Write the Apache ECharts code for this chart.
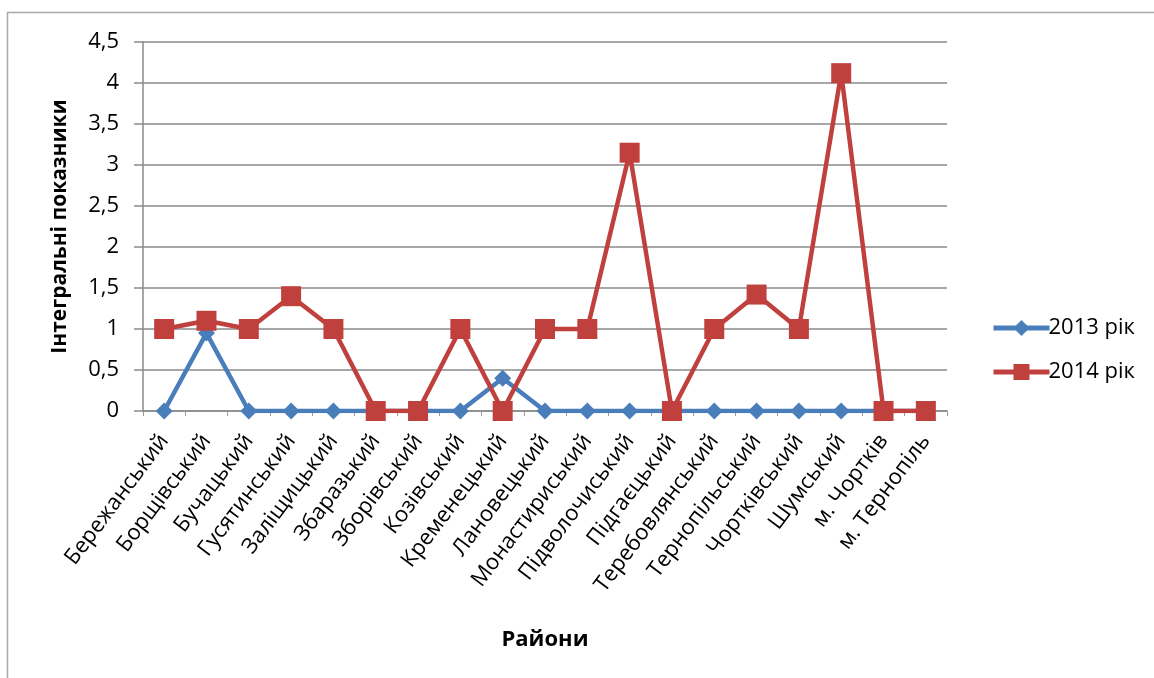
<!DOCTYPE html>
<html>
<head>
<meta charset="utf-8">
<script src="https://cdn.jsdelivr.net/npm/echarts@6/dist/echarts.min.js"></script>
<style>
  html, body { margin: 0; padding: 0; background: #fff; }
  #chart { width: 1154px; height: 678px; }
</style>
</head>
<body>
<div id="chart"></div>
<script>
// Districts of Ternopil oblast
const districts = [
  "Бережанський", "Борщівський", "Бучацький", "Гусятинський", "Заліщицький",
  "Збаразький", "Зборівський", "Козівський", "Кременецький", "Лановецький",
  "Монастириський", "Підволочиський", "Підгаєцький", "Теребовлянський",
  "Тернопільський", "Чортківський", "Шумський", "м. Чортків", "м. Тернопіль"
];

// Integral indicators by year
const values2013 = [0, 0.95, 0, 0, 0, 0, 0, 0, 0.4, 0, 0, 0, 0, 0, 0, 0, 0, 0, 0];
const values2014 = [1, 1.1, 1, 1.4, 1, 0, 0, 1, 0, 1, 1, 3.15, 0, 1, 1.42, 1, 4.12, 0, 0];

const seriesNames = ["2013 рік", "2014 рік"];
const axisNameX = "Райони";
const axisNameY = "Інтегральні показники";

const FONT = "'Open Sans', 'Noto Sans', sans-serif";
const GRID_COLOR = "#8a8a8a";
const BLUE = "#4a7ebb";
const RED = "#c0403d";

const chart = echarts.init(document.getElementById("chart"), null, { renderer: "canvas" });

chart.setOption({
  backgroundColor: "#ffffff",
  animation: false,
  graphic: [{
    type: "rect",
    shape: { x: 7.5, y: 12.5, width: 1170, height: 700 },
    style: { fill: "none", stroke: "#a8a8a8", lineWidth: 1.5 },
    silent: true
  }],
  grid: { left: 143, right: 207, top: 42, bottom: 267, containLabel: false },
  legend: {
    orient: "vertical",
    left: 986,
    top: 312,
    itemWidth: 56,
    itemHeight: 20,
    itemGap: 22,
    lineStyle: { width: 5 },
    textStyle: { fontFamily: FONT, fontSize: 22, color: "#000", padding: [0, 0, 0, -6] },
    data: seriesNames
  },
  xAxis: {
    type: "category",
    data: districts,
    boundaryGap: true,
    name: axisNameX,
    nameLocation: "middle",
    nameGap: 218,
    nameTextStyle: { fontFamily: FONT, fontSize: 22, fontWeight: "bold", color: "#000" },
    axisLine: { show: true, lineStyle: { color: GRID_COLOR, width: 1.5 } },
    axisTick: { show: true, length: 5, lineStyle: { color: "#9a9a9a", width: 1 } },
    axisLabel: {
      interval: 0,
      rotate: 53,
      margin: 26,
      fontFamily: FONT,
      fontSize: 22,
      color: "#000"
    },
    splitLine: { show: false }
  },
  yAxis: {
    type: "value",
    min: 0,
    max: 4.5,
    interval: 0.5,
    name: axisNameY,
    nameLocation: "middle",
    nameGap: 72,
    nameRotate: 90,
    nameTextStyle: { fontFamily: FONT, fontSize: 21, fontWeight: "bold", color: "#000" },
    axisLine: { show: true, lineStyle: { color: GRID_COLOR, width: 1.5 } },
    axisTick: { show: true, length: 9, lineStyle: { color: GRID_COLOR, width: 1.5 } },
    axisLabel: {
      margin: 24,
      fontFamily: FONT,
      fontSize: 22,
      color: "#000",
      formatter: v => String(v).replace(".", ",")
    },
    splitLine: { show: true, lineStyle: { color: GRID_COLOR, width: 1.5 } }
  },
  series: [
    {
      name: seriesNames[0],
      type: "line",
      data: values2013,
      symbol: "diamond",
      symbolSize: 17,
      lineStyle: { color: BLUE, width: 4.5 },
      itemStyle: { color: BLUE },
      z: 2
    },
    {
      name: seriesNames[1],
      type: "line",
      data: values2014,
      symbol: "rect",
      symbolSize: 20,
      lineStyle: { color: RED, width: 4.5 },
      itemStyle: { color: RED },
      z: 3
    }
  ]
});
</script>
</body>
</html>
